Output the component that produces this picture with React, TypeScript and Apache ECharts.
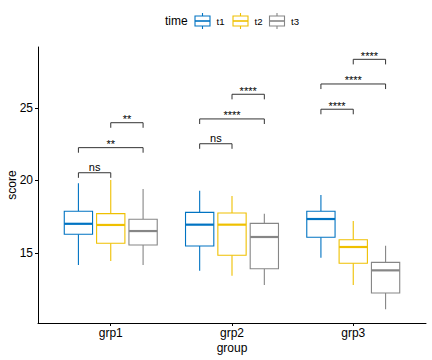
import React, { useEffect, useRef } from 'react';
import * as echarts from 'echarts';

const groups = ['grp1', 'grp2', 'grp3'];
const times = ['t1', 't2', 't3'];
const colors = ['#0073C2', '#EFC000', '#868686'];
const yTicks = [15, 20, 25];
// [lower whisker, q1, median, q3, upper whisker] for grp1..grp3
const t1Stats = [
  [14.16, 16.28, 17.0, 17.86, 19.79],
  [13.77, 15.47, 16.94, 17.79, 19.28],
  [14.66, 16.07, 17.33, 17.86, 18.99],
];
const t2Stats = [
  [14.43, 15.66, 16.92, 17.7, 20.02],
  [13.42, 14.83, 16.94, 17.74, 18.92],
  [12.78, 14.28, 15.4, 15.9, 17.19],
];
const t3Stats = [
  [14.16, 15.54, 16.5, 17.31, 19.4],
  [12.78, 13.9, 16.09, 17.03, 17.7],
  [11.1, 12.23, 13.79, 14.34, 15.49],
];
// significance brackets
const bracketGroup = [0, 0, 0, 1, 1, 1, 2, 2, 2];
const bracketFrom = [0, 0, 1, 0, 0, 1, 0, 0, 1];
const bracketTo = [1, 2, 2, 1, 2, 2, 1, 2, 2];
const bracketY = [20.52, 22.25, 23.97, 22.52, 24.23, 25.93, 24.9, 26.64, 28.34];
const bracketLabels = ['ns', '**', '**', 'ns', '****', '****', '****', '****', '****'];

const FONT = '"Liberation Sans", Arial, sans-serif';
const DODGE = 0.8 / 3;
const BOX_W = 0.7 / 3;
const TIP = 0.35;

export default function App() {
  const ref = useRef<HTMLDivElement>(null);
  useEffect(() => {
    if (!ref.current) return;
    const chart = echarts.init(ref.current, null, { renderer: 'svg' });
    const allStats = [t1Stats, t2Stats, t3Stats];

    const boxSeries = allStats.map((stats, si) => ({
      type: 'custom',
      name: times[si],
      xAxisIndex: 0,
      yAxisIndex: 0,
      data: stats.map((s, gi) => [gi, ...s]),
      renderItem: (params: any, api: any) => {
        const g = api.value(0);
        const xc = g + 1 + (si - 1) * DODGE;
        const [cx, yLo] = api.coord([xc, api.value(1)]);
        const yQ1 = api.coord([xc, api.value(2)])[1];
        const yMed = api.coord([xc, api.value(3)])[1];
        const yQ3 = api.coord([xc, api.value(4)])[1];
        const yHi = api.coord([xc, api.value(5)])[1];
        const half = api.size([BOX_W, 0])[0] / 2;
        const c = colors[si];
        return {
          type: 'group',
          children: [
            { type: 'line', shape: { x1: cx, y1: yLo, x2: cx, y2: yQ1 }, style: { stroke: c, lineWidth: 1.1 } },
            { type: 'line', shape: { x1: cx, y1: yQ3, x2: cx, y2: yHi }, style: { stroke: c, lineWidth: 1.1 } },
            {
              type: 'rect',
              shape: { x: cx - half, y: yQ3, width: 2 * half, height: yQ1 - yQ3 },
              style: { fill: '#ffffff', stroke: c, lineWidth: 1.1 },
            },
            { type: 'line', shape: { x1: cx - half, y1: yMed, x2: cx + half, y2: yMed }, style: { stroke: c, lineWidth: 2.2 } },
          ],
        };
      },
    }));

    const bracketSeries = {
      type: 'custom',
      name: 'brackets',
      data: bracketY.map((y, i) => [bracketGroup[i], bracketFrom[i], bracketTo[i], y, i]),
      renderItem: (params: any, api: any) => {
        const g = api.value(0);
        const x1v = g + 1 + (api.value(1) - 1) * DODGE;
        const x2v = g + 1 + (api.value(2) - 1) * DODGE;
        const yv = api.value(3);
        const idx = api.value(4);
        const [x1, y] = api.coord([x1v, yv]);
        const [x2] = api.coord([x2v, yv]);
        const yTip = api.coord([x1v, yv - TIP])[1];
        const label = bracketLabels[idx];
        const isStar = label.indexOf('*') >= 0;
        return {
          type: 'group',
          children: [
            {
              type: 'polyline',
              shape: { points: [[x1, yTip], [x1, y], [x2, y], [x2, yTip]] },
              style: { stroke: '#333333', lineWidth: 1, fill: 'none' },
            },
            {
              type: 'text',
              x: (x1 + x2) / 2,
              y: isStar ? y + 2 : y - 0.5,
              style: {
                text: label,
                fontSize: 11,
                fontFamily: FONT,
                fill: '#000000',
                align: 'center',
                verticalAlign: 'bottom',
              },
            },
          ],
        };
      },
    };

    // legend drawn with graphic elements
    const legendChildren: any[] = [
      {
        type: 'text',
        x: 165,
        y: 21,
        style: { text: 'time', fontSize: 12, fontFamily: FONT, fill: '#000', verticalAlign: 'middle' },
      },
    ];
    const iconX = [195, 233, 269.5];
    times.forEach((t, i) => {
      const x = iconX[i];
      const c = colors[i];
      legendChildren.push(
        { type: 'line', shape: { x1: x + 7.5, y1: 13, x2: x + 7.5, y2: 16 }, style: { stroke: c, lineWidth: 1.1 } },
        { type: 'line', shape: { x1: x + 7.5, y1: 26, x2: x + 7.5, y2: 29 }, style: { stroke: c, lineWidth: 1.1 } },
        { type: 'rect', shape: { x, y: 16, width: 15, height: 10 }, style: { fill: '#fff', stroke: c, lineWidth: 1.1 } },
        { type: 'line', shape: { x1: x, y1: 21, x2: x + 15, y2: 21 }, style: { stroke: c, lineWidth: 1.6 } },
        {
          type: 'text',
          x: x + 21.5,
          y: 21.5,
          style: { text: t, fontSize: 9.6, fontFamily: FONT, fill: '#000', verticalAlign: 'middle' },
        }
      );
    });

    chart.setOption({
      animation: false,
      backgroundColor: '#ffffff',
      grid: { left: 38, right: 6, top: 47, bottom: 37 },
      xAxis: {
        type: 'value',
        min: 0.4,
        max: 3.6,
        splitLine: { show: false },
        axisLine: { show: true, lineStyle: { color: '#000', width: 1 } },
        axisTick: { show: true, length: 3, lineStyle: { color: '#000' }, customValues: [1, 2, 3] },
        axisLabel: {
          customValues: [1, 2, 3],
          formatter: (v: number) => groups[Math.round(v) - 1] ?? '',
          fontSize: 12,
          fontFamily: FONT,
          color: '#000',
          margin: 4,
        },
      },
      yAxis: {
        type: 'value',
        min: 10.16,
        max: 29.19,
        splitLine: { show: false },
        axisLine: { show: true, lineStyle: { color: '#000', width: 1 } },
        axisTick: { show: true, length: 3, lineStyle: { color: '#000' }, customValues: yTicks },
        axisLabel: {
          customValues: yTicks,
          fontSize: 12,
          fontFamily: FONT,
          color: '#000',
          margin: 5,
        },
      },
      graphic: [
        ...legendChildren,
        {
          type: 'text',
          x: 232,
          y: 348,
          style: { text: 'group', fontSize: 12, fontFamily: FONT, fill: '#000', align: 'center', verticalAlign: 'middle' },
        },
        {
          type: 'text',
          x: 11.5,
          y: 185,
          rotation: Math.PI / 2,
          style: { text: 'score', fontSize: 12, fontFamily: FONT, fill: '#000', align: 'center', verticalAlign: 'middle' },
        },
      ],
      series: [...boxSeries, bracketSeries],
    });
    return () => chart.dispose();
  }, []);
  return <div ref={ref} style={{ width: 432, height: 360, position: 'absolute', left: 0, top: 0 }} />;
}
